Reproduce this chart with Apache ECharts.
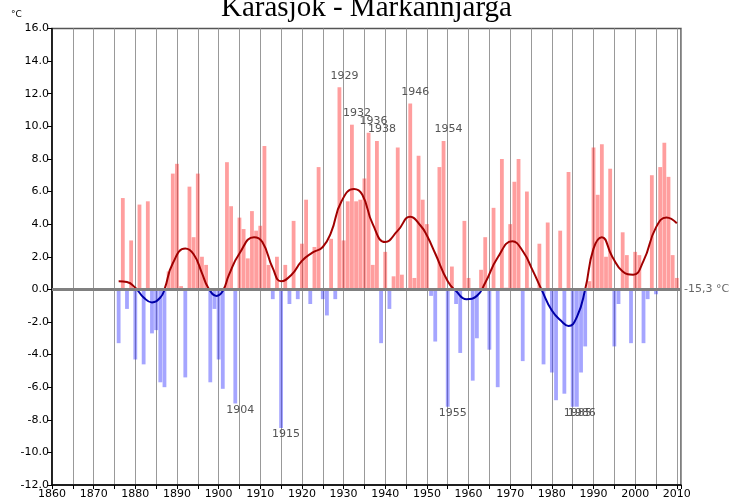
<!DOCTYPE html>
<html>
<head>
<meta charset="utf-8">
<script src="https://cdn.jsdelivr.net/npm/echarts@6/dist/echarts.min.js"></script>
<style>
  html, body { margin: 0; padding: 0; background: #fff; }
  #chart { width: 733px; height: 500px; }
</style>
</head>
<body>
<div id="chart"></div>
<script>
// yearly anomalies, 1876 - 2010 (deg C relative to -15,3)
const firstYear = 1876;
const anomalies = [
  -3.3, 5.6, -1.2, 3.0,                                   // 1876-1879
  -4.3, 5.2, -4.6, 5.4, -2.7, -2.5, -5.7, -6.0, 1.1, 7.1, // 1880-1889
  7.7, 0.2, -5.4, 6.3, 3.2, 7.1, 2.0, 1.5, -5.7, -1.2,    // 1890-1899
  -4.3, -6.1, 7.8, 5.1, -7.0, 4.4, 3.7, 1.9, 4.8, 3.6,    // 1900-1909
  3.9, 8.8, 1.5, -0.6, 2.0, -8.5, 1.5, -0.9, 4.2, -0.6,   // 1910-1919
  2.8, 5.5, -0.9, 2.6, 7.5, -0.6, -1.6, 3.1, -0.6, 12.4,  // 1920-1929
  3.0, 5.4, 10.1, 5.4, 5.5, 6.8, 9.6, 1.5, 9.1, -3.3,     // 1930-1939
  2.3, -1.2, 0.8, 8.7, 0.9, -0.1, 11.4, 0.7, 8.2, 5.5,    // 1940-1949
  4.0, -0.4, -3.2, 7.5, 9.1, -7.2, 1.4, -0.9, -3.9, 4.2,  // 1950-1959
  0.7, -5.6, -3.0, 1.2, 3.2, -3.7, 5.0, -6.0, 8.0, 0.1,   // 1960-1969
  4.0, 6.6, 8.0, -4.4, 6.0, 0.1, -0.1, 2.8, -4.6, 4.1,    // 1970-1979
  -5.1, -6.8, 3.6, -6.4, 7.2, -7.2, -7.2, -5.1, -3.5, 0.5,// 1980-1989
  8.7, 5.8, 8.9, 2.0, 7.4, -3.5, -0.9, 3.5, 2.1, -3.3,    // 1990-1999
  2.3, 2.1, -3.3, -0.6, 7.0, -0.3, 7.5, 9.0, 6.9, 2.1,    // 2000-2009
  0.7                                                     // 2010
];

// smoothed curve
const smoothYears = [1876, 1878, 1880, 1882, 1884, 1886, 1887, 1889, 1892, 1894, 1896, 1897.5, 1899.5, 1901, 1902.5,
  1905, 1908.5, 1910.5, 1913, 1915, 1917.5, 1920, 1922.5, 1925, 1927, 1929.5, 1932.5, 1934.5, 1937, 1940,
  1943, 1946, 1948.5, 1950, 1952, 1955, 1957, 1959.5, 1962, 1964, 1967, 1970.5, 1973, 1975.5, 1977.5,
  1980, 1982.5, 1984, 1986, 1988, 1990, 1992, 1994.5, 1997, 1999.5, 2002, 2005, 2007.5, 2010];
const smoothValues = [0.5, 0.45, 0.1, -0.5, -0.8, -0.5, 0.0, 1.6, 2.5, 2.15, 1.0, 0.1, -0.4, -0.1, 0.9,
  2.2, 3.2, 2.9, 1.3, 0.5, 0.9, 1.75, 2.25, 2.6, 3.5, 5.4, 6.15, 5.8, 4.0, 2.9,
  3.6, 4.45, 3.9, 3.3, 2.2, 0.5, -0.1, -0.6, -0.4, 0.4, 1.95, 2.95, 2.35, 1.1, 0.0,
  -1.3, -2.0, -2.25, -1.7, 0.0, 2.5, 3.2, 2.0, 1.1, 0.9, 1.75, 3.8, 4.4, 4.05];

const labelYears = [1904, 1915, 1929, 1932, 1936, 1938, 1946, 1954, 1955, 1985, 1986];

const barData = anomalies.map((v, i) => {
  const year = firstYear + i;
  const item = { value: [year, v] };
  if (labelYears.includes(year)) {
    item.label = {
      show: true,
      formatter: String(year),
      position: v >= 0 ? 'top' : 'bottom',
      distance: v >= 0 ? 6 : 1,
      offset: [5, 0],
      color: '#555',
      fontSize: 11,
      fontFamily: 'DejaVu Sans'
    };
  }
  return item;
});

const chart = echarts.init(document.getElementById('chart'));

chart.setOption({
  animation: false,
  title: {
    text: 'Karasjok - Markannjarga',
    left: 'center',
    top: -11,
    textStyle: { fontFamily: 'Liberation Serif', fontSize: 29, fontWeight: 'normal', color: '#000' }
  },
  graphic: [{
    type: 'text',
    left: 11,
    top: 10,
    style: { text: '°C', fontSize: 9, fontFamily: 'DejaVu Sans', fill: '#000' }
  }],
  grid: {
    left: 52, right: 52, top: 28.5, bottom: 15,
    show: true, borderColor: '#555', borderWidth: 1.5
  },
  xAxis: {
    type: 'value',
    min: 1860,
    max: 2011,
    interval: 5,
    axisLine: { onZero: false, lineStyle: { color: '#000', width: 1.5 } },
    axisTick: { show: true, length: 4, lineStyle: { color: '#000' } },
    axisLabel: {
      color: '#000', fontSize: 11, fontFamily: 'DejaVu Sans', margin: 4,
      formatter: v => (v % 10 === 0 ? String(v) : '')
    },
    splitLine: { show: true, lineStyle: { color: '#999', width: 1 } }
  },
  yAxis: {
    type: 'value',
    min: -12,
    max: 16,
    interval: 2,
    axisLine: { show: true, onZero: false, lineStyle: { color: '#000', width: 1.5 } },
    axisTick: { show: true, length: 5, lineStyle: { color: '#000' } },
    axisLabel: {
      color: '#000', fontSize: 11, fontFamily: 'DejaVu Sans', margin: 3,
      formatter: v => v.toFixed(1)
    },
    splitLine: { show: false }
  },
  visualMap: {
    type: 'piecewise',
    show: false,
    dimension: 1,
    seriesIndex: 1,
    pieces: [
      { gt: 0, lte: 20, color: '#a00000' },
      { gte: -20, lte: 0, color: '#0000a8' }
    ]
  },
  series: [
    {
      type: 'bar',
      data: barData,
      barWidth: 3.8,
      z: 2,
      itemStyle: {
        color: p => (p.value[1] >= 0 ? 'rgba(255,40,40,0.45)' : 'rgba(40,40,255,0.42)')
      },
      markLine: {
        silent: true,
        symbol: 'none',
        data: [{ yAxis: 0 }],
        lineStyle: { color: '#808080', width: 3, type: 'solid' },
        label: {
          show: true,
          position: 'end',
          formatter: '-15,3 °C',
          color: '#666',
          fontSize: 11,
          fontFamily: 'DejaVu Sans',
          distance: 3
        }
      }
    },
    {
      type: 'line',
      data: smoothYears.map((y, i) => [y, smoothValues[i]]),
      smooth: 0.5,
      showSymbol: false,
      z: 4,
      lineStyle: { width: 2 }
    }
  ]
});
</script>
</body>
</html>
